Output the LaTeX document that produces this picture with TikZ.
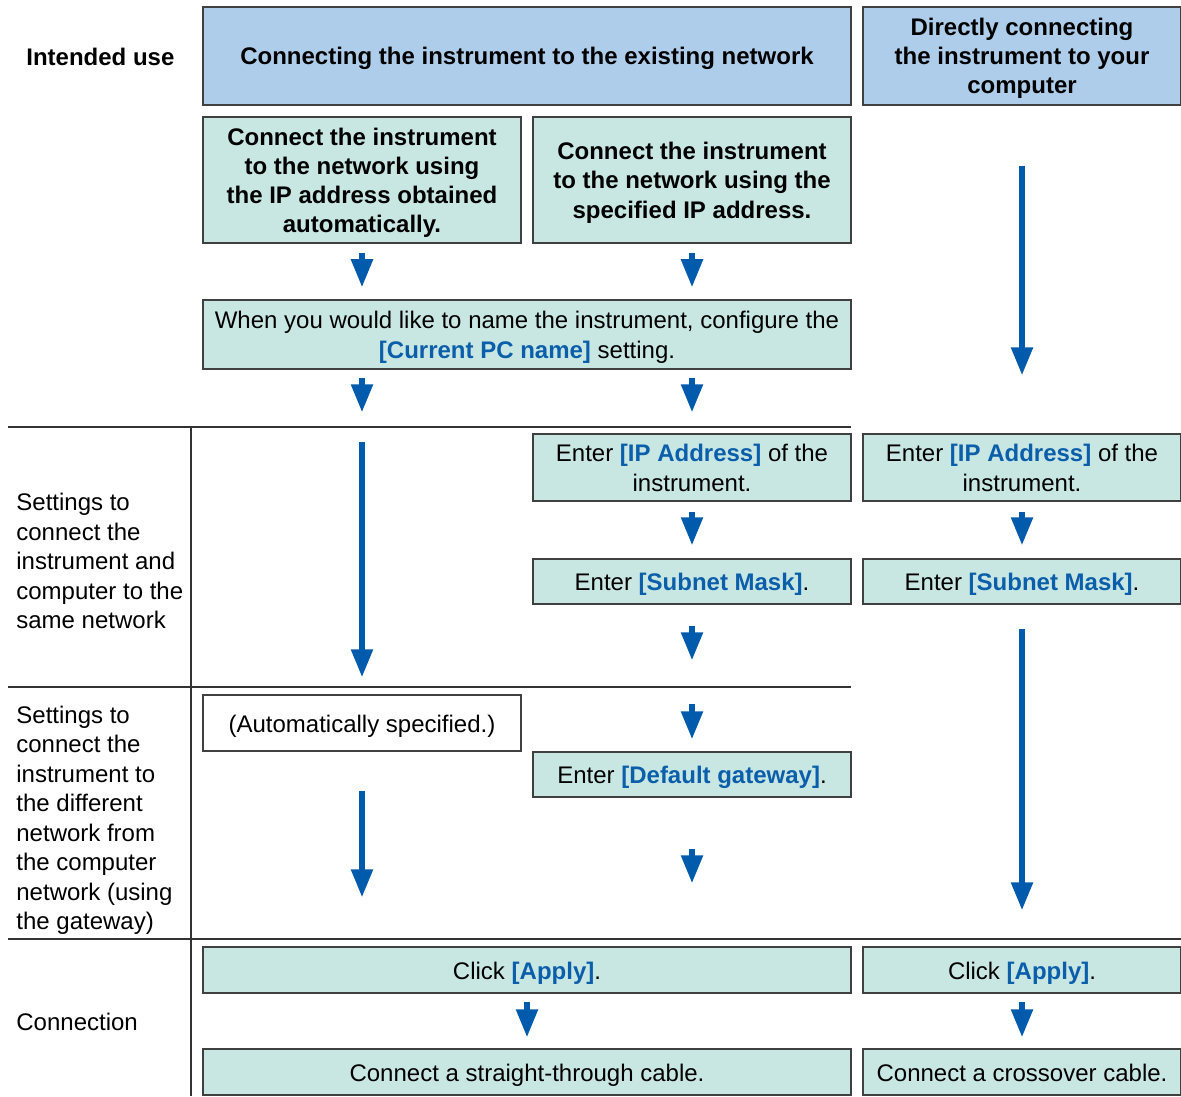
\documentclass[tikz,border=0pt]{standalone}
\usepackage{fontspec}
\setmainfont{Liberation Sans}
\usepackage{xcolor}
\usetikzlibrary{arrows.meta,positioning,calc}

\definecolor{hdrblue}{HTML}{AECDEB}
\definecolor{stepgreen}{HTML}{C8E7E3}
\definecolor{edgegray}{HTML}{404040}
\definecolor{flowblue}{HTML}{005BAC}
\definecolor{keyblue}{HTML}{0A5EAA}
\newcommand{\keyterm}[1]{\textbf{\textcolor{keyblue}{#1}}}
%% fixed line extents, so every box text sits at the same height
\newcommand{\boxstrut}{\rule[-2.6pt]{0pt}{14.2pt}}

\begin{document}
\begin{tikzpicture}[
    x=0.5pt, y=-0.5pt,
    font=\fontsize{12}{14.75}\selectfont,
    hdr/.style={
        draw=edgegray, line width=0.75pt, fill=hdrblue,
        align=center, inner sep=0pt, minimum height=49pt,
        font=\fontsize{12}{14.5}\selectfont\bfseries},
    stepbox/.style={
        draw=edgegray, line width=0.75pt, fill=stepgreen,
        align=center, inner sep=0pt, minimum width=#1},
    stepbox/.default=159pt,
    autobox/.style={
        draw=edgegray, line width=0.75pt, fill=white,
        align=center, inner sep=0pt, minimum width=159pt},
    rowlbl/.style={align=left, inner sep=0pt, anchor=west},
    grid/.style={draw=black!80, line width=0.75pt},
    flow/.style={draw=flowblue, line width=2.75pt,
        -{Triangle[width=10.5pt,length=14pt]}}
]
\useasboundingbox (0,0) rectangle (1181,1096);

%% ══════════════════════════════ GRID ══════════════════════════════
\draw[grid] (8,427) -- (851,427);
\draw[grid] (8,687) -- (851,687);
\draw[grid] (8,939) -- (1181,939);
\draw[grid] (191,427) -- (191,1096);

%% ══════════════════════════════ ROW LABELS ══════════════════════════════
\node[rowlbl, font=\fontsize{12}{14.75}\selectfont\bfseries] (lbl_use) at (26,57)
    {Intended use};
\node[rowlbl] (lbl_same) at (16,561)
    {Settings to\\connect the\\instrument and\\computer to the\\same network};
\node[rowlbl] (lbl_diff) at (16,820.5)
    {Settings to\\connect the\\instrument to\\the different\\network from\\the computer\\network (using\\the gateway)};
\node[rowlbl] (lbl_conn) at (16,1022) {Connection};

%% ══════════════════════════════ INTENDED USE ══════════════════════════════
\node[hdr, minimum width=324pt] (hdr_net) at (527,56)
    {\boxstrut Connecting the instrument to the existing network\boxstrut};
\node[hdr, minimum width=159pt, right=5.25pt of hdr_net] (hdr_dir)
    {\boxstrut Directly connecting\\the instrument to your\\computer\boxstrut};

\node[stepbox, minimum height=63pt, font=\fontsize{12}{14.65}\selectfont\bfseries] (auto_ip) at (362,180)
    {\boxstrut Connect the instrument\\to the network using\\the IP address obtained\\automatically.\boxstrut};
\node[stepbox, minimum height=63pt, font=\fontsize{12}{14.65}\selectfont\bfseries, right=5.25pt of auto_ip] (fix_ip)
    {\boxstrut Connect the instrument\\to the network using the\\specified IP address.\boxstrut};

\node[stepbox=324pt, minimum height=34.5pt] (pc_name) at (527,334.5)
    {\boxstrut When you would like to name the instrument, configure the\\
     \keyterm{[Current PC name]} setting.\boxstrut};

%% ══════════════════════════════ SAME NETWORK ══════════════════════════════
\node[stepbox, minimum height=33.5pt] (ip_b) at (692,467.5)
    {\boxstrut Enter \keyterm{[IP Address]} of the\\instrument.\boxstrut};
\node[stepbox, minimum height=33.5pt, right=5.25pt of ip_b] (ip_c)
    {\boxstrut Enter \keyterm{[IP Address]} of the\\instrument.\boxstrut};
\node[stepbox, minimum height=22.5pt] (mask_b) at (692,581.5)
    {\boxstrut Enter \keyterm{[Subnet Mask]}.};
\node[stepbox, minimum height=22.5pt, right=5.25pt of mask_b] (mask_c)
    {\boxstrut Enter \keyterm{[Subnet Mask]}.};

%% ══════════════════════════════ GATEWAY ══════════════════════════════
\node[autobox, minimum height=28pt] (gw_auto) at (362,723)
    {\boxstrut(Automatically specified.)};
\node[stepbox, minimum height=22.5pt] (gw_b) at (692,774.5)
    {\boxstrut Enter \keyterm{[Default gateway]}.};

%% ══════════════════════════════ CONNECTION ══════════════════════════════
\node[stepbox=324pt, minimum height=23pt] (apply_ab) at (527,970)
    {\boxstrut Click \keyterm{[Apply]}.};
\node[stepbox, minimum height=23pt, right=5.25pt of apply_ab] (apply_c)
    {\boxstrut Click \keyterm{[Apply]}.};
\node[stepbox=324pt, minimum height=23pt] (cable_ab) at (527,1072)
    {\boxstrut Connect a straight-through cable.};
\node[stepbox, minimum height=23pt, right=5.25pt of cable_ab] (cable_c)
    {\boxstrut Connect a crossover cable.};

%% ══════════════════════════════ ARROWS ══════════════════════════════
%% automatic address column
\draw[flow, shorten <=4.5pt, shorten >=6pt] (auto_ip.south) -- (auto_ip.south |- pc_name.north);
\draw[flow, shorten <=4pt, shorten >=141pt] (pc_name.south -| gw_auto) -- (gw_auto.north);
\draw[flow, shorten <=36pt, shorten >=8.5pt] (pc_name.south -| gw_auto) -- (gw_auto.north);
\draw[flow, shorten <=19.5pt, shorten >=24.5pt] (gw_auto.south) -- (gw_auto.south |- apply_ab.north);

%% specified address column
\draw[flow, shorten <=4.5pt, shorten >=6pt] (fix_ip.south) -- (fix_ip.south |- pc_name.north);
\draw[flow, shorten <=4pt, shorten >=10.5pt] (pc_name.south -| ip_b) -- (ip_b.north);
\draw[flow, shorten <=5pt, shorten >=6.5pt] (ip_b) -- (mask_b);
\draw[flow, shorten <=10.5pt, shorten >=45.5pt] (mask_b) -- (gw_b);
\draw[flow, shorten <=49.5pt, shorten >=6pt] (mask_b) -- (gw_b);
\draw[flow, shorten <=25.5pt, shorten >=31.5pt] (gw_b.south) -- (gw_b.south |- apply_ab.north);

%% direct column
\draw[flow, shorten <=30pt, shorten >=29pt] (hdr_dir) -- (ip_c);
\draw[flow, shorten <=5pt, shorten >=6.5pt] (ip_c) -- (mask_c);
\draw[flow, shorten <=12pt, shorten >=18pt] (mask_c) -- (apply_c);

%% apply -> cable
\draw[flow, shorten <=4pt, shorten >=5.5pt] (apply_ab) -- (cable_ab);
\draw[flow, shorten <=4pt, shorten >=5.5pt] (apply_c) -- (cable_c);

\end{tikzpicture}
\end{document}
